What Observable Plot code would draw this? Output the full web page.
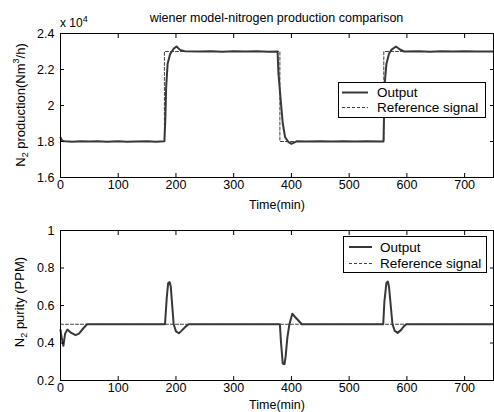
<!DOCTYPE html>
<html>
<head>
<meta charset="utf-8">
<script src="https://cdn.jsdelivr.net/npm/d3@7"></script>
<script src="https://cdn.jsdelivr.net/npm/@observablehq/plot@0.6"></script>
<style>
  body { margin: 0; background: #fff; }
  #wrap { position: relative; width: 494px; height: 412px; background: #fff; font-family: "Liberation Sans", Arial, sans-serif; color: #000; overflow: hidden; }
  .abs { position: absolute; white-space: nowrap; }
  .txt { font-size: 13px; line-height: 1; }
  .ylab { transform-origin: center center; transform: translate(-50%, -50%) rotate(-90deg); }
  .legend { position: absolute; border: 1px solid #000; background: #fff; box-sizing: border-box; }
  sub, sup { font-size: 9px; line-height: 0; }
  svg.plot { position: absolute; left: 0; }
</style>
</head>
<body>
<div id="wrap"></div>
<script>
// ---------- data ----------
const title = "wiener model-nitrogen production comparison";
const xLabel = "Time(min)";
const legendLabels = ["Output", "Reference signal"];
const xTicks = [0, 100, 200, 300, 400, 500, 600, 700];
const topYTicks = [16000, 18000, 20000, 22000, 24000];
const bottomYTicks = [0.2, 0.4, 0.6, 0.8, 1];

// Top panel: nitrogen production (Nm3/h)
const topOutTime  = [0, 2, 4, 8, 20, 35, 50, 65, 80, 100, 115, 130, 150, 165, 180, 181.5, 183, 185.5, 190, 196, 201, 207, 215, 240, 260, 280, 300, 320, 340, 360, 376, 377.5, 381, 385, 389, 395, 400, 409, 425, 450, 470, 490, 510, 530, 559.5, 561.5, 564.5, 569, 573, 581, 588, 595, 620, 640, 660, 680, 700, 720, 750];
const topOutValue = [18220, 18100, 18030, 18010, 17990, 18010, 18000, 18020, 17990, 18010, 17990, 18000, 18010, 17990, 18010, 19170, 21000, 22300, 22870, 23150, 23280, 23090, 23020, 23000, 23010, 22990, 23010, 23000, 23020, 22990, 23000, 21780, 20460, 19000, 18240, 17960, 17870, 18010, 18000, 18020, 18000, 18010, 18000, 18010, 18000, 21200, 22300, 22870, 23090, 23280, 23110, 23000, 23010, 22990, 23020, 23000, 23010, 23000, 23000];
const topRefTime  = [0, 180, 180, 380, 380, 560, 560, 750];
const topRefValue = [18000, 18000, 23000, 23000, 18000, 18000, 23000, 23000];

// Bottom panel: nitrogen purity (PPM)
const botOutTime  = [0, 2, 5, 8, 12, 18, 26, 32, 40, 46, 181, 184, 186.5, 189, 191, 193.5, 196, 200, 205, 210, 216, 222, 380, 382, 385, 388, 390, 393, 396.5, 401.5, 406, 412, 418, 559, 561, 564.5, 567, 569, 572, 575, 579, 584, 590, 595, 599, 750];
const botOutValue = [0.47, 0.43, 0.385, 0.45, 0.472, 0.455, 0.442, 0.45, 0.48, 0.5, 0.5, 0.64, 0.72, 0.725, 0.70, 0.6, 0.5, 0.462, 0.452, 0.466, 0.485, 0.5, 0.5, 0.40, 0.29, 0.287, 0.33, 0.43, 0.5, 0.556, 0.54, 0.52, 0.5, 0.5, 0.62, 0.72, 0.728, 0.70, 0.6, 0.5, 0.465, 0.454, 0.47, 0.49, 0.5, 0.5];
const botRefTime  = [0, 750];
const botRefValue = [0.5, 0.5];

// ---------- build ----------
const zip = (ts, vs) => ts.map((t, i) => ({t, v: vs[i]}));
const outColor = "#383838";
const refColor = "#404040";
const tickFont = '"Liberation Sans Narrow", "Arial Narrow", "Liberation Sans", Arial, sans-serif';

function panel(outData, refData, yDomain, yTicks, yFmt, mt, mb, h) {
  return Plot.plot({
    width: 494, height: h,
    marginLeft: 60, marginRight: 1, marginTop: mt, marginBottom: mb,
    x: {domain: [0, 750]},
    y: {domain: yDomain},
    style: {fontFamily: tickFont, fontSize: "12.5px", color: "#000", background: "transparent", overflow: "visible"},
    marks: [
      Plot.line(refData, {x: "t", y: "v", stroke: refColor, strokeWidth: 1, strokeDasharray: "3,2"}),
      Plot.line(outData, {x: "t", y: "v", stroke: outColor, strokeWidth: 2}),
      Plot.frame({stroke: "#000"}),
      Plot.axisX(xTicks, {anchor: "bottom", tickSize: -4, tickPadding: 7, label: null, tickFormat: d => String(d)}),
      Plot.axisX(xTicks, {anchor: "top", tickSize: -4, label: null, tickFormat: () => ""}),
      Plot.axisY(yTicks, {anchor: "left", tickSize: -4, tickPadding: 10, label: null, tickFormat: yFmt}),
      Plot.axisY(yTicks, {anchor: "right", tickSize: -4, label: null, tickFormat: () => ""})
    ]
  });
}

const wrap = document.getElementById("wrap");

const topPlot = panel(zip(topOutTime, topOutValue), zip(topRefTime, topRefValue), [16000, 24000], topYTicks,
  d => String(+(d / 1e4).toFixed(1)), 33, 33, 210);
topPlot.classList.add("plot");
topPlot.style.top = "0px";
wrap.appendChild(topPlot);

const botPlot = panel(zip(botOutTime, botOutValue), zip(botRefTime, botRefValue), [0.2, 1], bottomYTicks,
  d => String(+d.toFixed(1)), 24, 32, 206);
botPlot.classList.add("plot");
botPlot.style.top = "206px";
wrap.appendChild(botPlot);

function addText(html, css, cls = "abs txt") {
  const d = document.createElement("div");
  d.className = cls;
  d.innerHTML = html;
  Object.assign(d.style, css);
  wrap.appendChild(d);
  return d;
}

// title & exponent
addText(title, {left: "60px", width: "433px", top: "12px", textAlign: "center", fontSize: "12.5px"});
addText("x 10<sup>4</sup>", {left: "60px", top: "17px", fontSize: "12px"});
// x labels
addText(xLabel, {left: "277px", top: "199px", transform: "translateX(-50%)", fontSize: "12.5px"});
addText(xLabel, {left: "277px", top: "399px", transform: "translateX(-50%)", fontSize: "12.5px"});
// y labels
addText("N<sub>2</sub> production(Nm<sup>3</sup>/h)", {left: "20px", top: "105px"}, "abs txt ylab");
addText("N<sub>2</sub> purity (PPM)", {left: "19px", top: "302px"}, "abs txt ylab");

// legends
function legend(left, topY, w, h, sx1, sx2, tx, rows) {
  const box = document.createElement("div");
  box.className = "legend";
  Object.assign(box.style, {left: left + "px", top: topY + "px", width: w + "px", height: h + "px"});
  const ns = "http://www.w3.org/2000/svg";
  const svg = document.createElementNS(ns, "svg");
  svg.setAttribute("width", w - 2); svg.setAttribute("height", h - 2);
  svg.style.position = "absolute"; svg.style.left = "0"; svg.style.top = "0";
  const styles = [{c: outColor, w: 2, d: null}, {c: refColor, w: 1, d: "3,2"}];
  rows.forEach((ry, i) => {
    const ln = document.createElementNS(ns, "line");
    ln.setAttribute("x1", sx1); ln.setAttribute("x2", sx2);
    ln.setAttribute("y1", ry); ln.setAttribute("y2", ry);
    ln.setAttribute("stroke", styles[i].c); ln.setAttribute("stroke-width", styles[i].w);
    if (styles[i].d) ln.setAttribute("stroke-dasharray", styles[i].d);
    svg.appendChild(ln);
    const t = document.createElementNS(ns, "text");
    t.setAttribute("x", tx); t.setAttribute("y", ry);
    t.setAttribute("dy", "0.35em");
    t.setAttribute("font-family", '"Liberation Sans", Arial, sans-serif');
    t.setAttribute("font-size", "13.5");
    t.textContent = legendLabels[i];
    svg.appendChild(t);
  });
  box.appendChild(svg);
  wrap.appendChild(box);
}
legend(338, 82, 148, 36, 3, 29, 38, [9.5, 24.5]);
legend(343, 236, 144, 37, 5, 28, 36, [10, 26.5]);
</script>
</body>
</html>
